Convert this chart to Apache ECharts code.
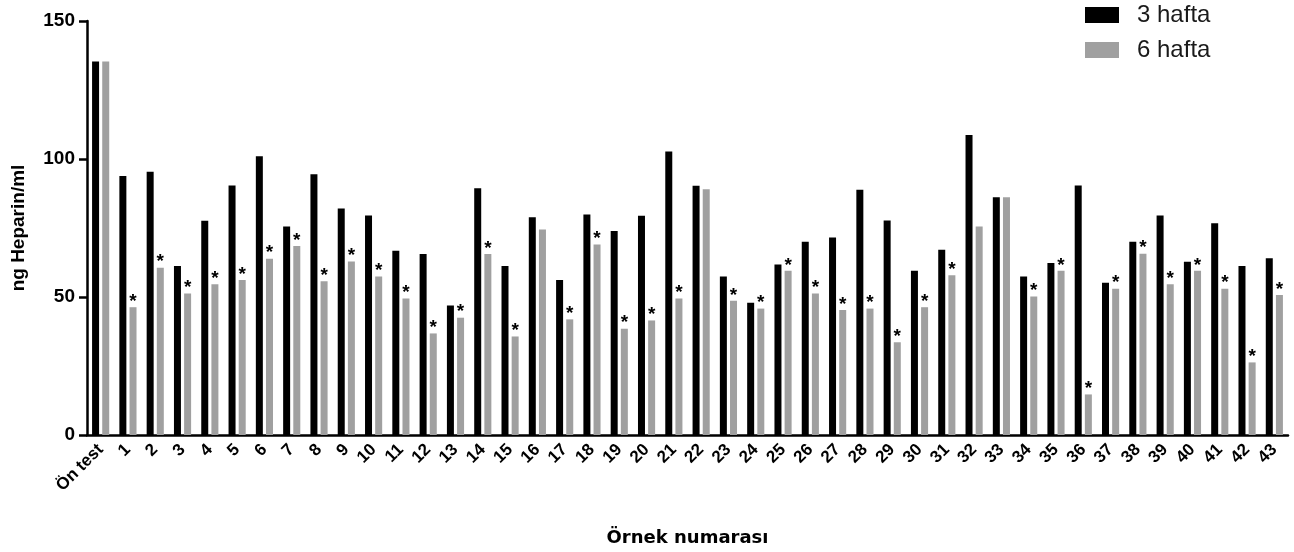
<!DOCTYPE html>
<html>
<head>
<meta charset="utf-8">
<script src="https://cdn.jsdelivr.net/npm/echarts@6/dist/echarts.min.js"></script>
<style>html,body{margin:0;padding:0;background:#fff}#c{width:1294px;height:552px}</style>
</head>
<body>
<div id="c"></div>
<script>
const categories = ['Ön test','1','2','3','4','5','6','7','8','9','10','11','12','13','14','15','16','17','18','19','20','21','22','23','24','25','26','27','28','29','30','31','32','33','34','35','36','37','38','39','40','41','42','43'];
const week3 = [135.3,93.8,95.4,61.2,77.6,90.4,101,75.5,94.5,82.1,79.5,66.8,65.6,46.9,89.4,61.2,78.9,56.2,79.9,73.9,79.4,102.7,90.3,57.4,47.9,61.8,70.0,71.6,88.9,77.7,59.5,67.1,108.7,86.1,57.4,62.3,90.4,55.2,70.0,79.5,62.8,76.7,61.2,64.0];
const week6 = [135.3,46.3,60.6,51.3,54.6,56.2,63.9,68.5,55.7,62.9,57.4,49.5,36.8,42.5,65.6,35.7,74.5,41.9,69.0,38.5,41.5,49.5,89.0,48.6,45.8,59.5,51.3,45.3,45.8,33.6,46.3,57.9,75.5,86.1,50.2,59.5,14.7,53.0,65.7,54.6,59.5,53.0,26.3,50.7];
const significant = [0,1,1,1,1,1,1,1,1,1,1,1,1,1,1,1,0,1,1,1,1,1,0,1,1,1,1,1,1,1,1,1,0,0,1,1,1,1,1,1,1,1,1,1];
const yTicks = [0,50,100,150];

const chart = echarts.init(document.getElementById('c'));
chart.setOption({
  animation: false,
  backgroundColor: '#fff',
  grid: {left: 87, right: 6, top: 21, bottom: 116},
  legend: {
    orient: 'vertical', left: 1085, top: 3, padding: 0,
    itemWidth: 34, itemHeight: 16, itemGap: 11,
    textStyle: {fontFamily: 'Liberation Sans, Arial', fontSize: 24, color: '#1a1a1a', padding: [0,0,0,13]},
    data: [{name: '3 hafta', icon: 'rect'}, {name: '6 hafta', icon: 'rect'}]
  },
  xAxis: {
    type: 'category', data: categories,
    name: 'Örnek numarası', nameLocation: 'middle', nameGap: 94,
    nameTextStyle: {fontFamily: 'DejaVu Sans', fontSize: 18, fontWeight: 'bold', color: '#000'},
    axisLine: {lineStyle: {color: '#000', width: 2.5}},
    axisTick: {alignWithLabel: true, length: 9, lineStyle: {color: '#000', width: 2.5}},
    axisLabel: {rotate: 45, interval: 0, margin: 12, fontFamily: 'Liberation Sans, Arial', fontSize: 17, fontWeight: 'bold', color: '#000'}
  },
  yAxis: {
    type: 'value', min: yTicks[0], max: yTicks[yTicks.length-1], interval: 50,
    name: 'ng Heparin/ml', nameLocation: 'middle', nameGap: 59, nameRotate: 90,
    nameTextStyle: {fontFamily: 'Liberation Sans, Arial', fontSize: 19, fontWeight: 'bold', color: '#000'},
    axisLine: {show: true, lineStyle: {color: '#000', width: 2.5}},
    axisTick: {show: true, length: 8, lineStyle: {color: '#000', width: 2.5}},
    axisLabel: {margin: 12, fontFamily: 'Liberation Sans, Arial', fontSize: 19, fontWeight: 'bold', color: '#000'},
    splitLine: {show: false}
  },
  series: [
    {name: '3 hafta', type: 'bar', data: week3, barWidth: 7, barGap: '45%', itemStyle: {color: '#000'}},
    {name: '6 hafta', type: 'bar', data: week6, barWidth: 7, itemStyle: {color: '#a0a0a0'},
     label: {show: true, position: 'top', distance: -4, fontSize: 19, fontWeight: 'bold', color: '#000', fontFamily: 'Liberation Sans, Arial',
       formatter: p => significant[p.dataIndex] ? '*' : ''}}
  ]
});
</script>
</body>
</html>
